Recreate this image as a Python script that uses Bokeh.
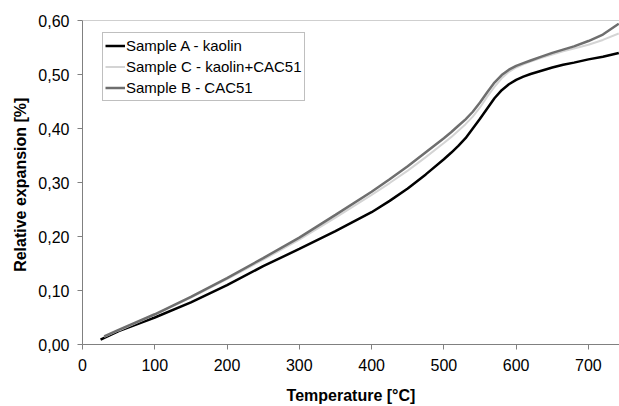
from bokeh.plotting import figure
from bokeh.models import Legend, LegendItem, FixedTicker, CustomJSTickFormatter, Span, Range1d
from bokeh.embed import file_html
from bokeh.resources import INLINE

temp_a = [25, 50, 100, 150, 200, 250, 300, 350, 400, 425, 450, 475, 500, 510, 520, 530, 540, 550, 560, 570, 580, 590, 600, 610, 620, 635, 650, 665, 680, 700, 720, 742]
sample_a = [0.009, 0.025, 0.050, 0.078, 0.110, 0.145, 0.177, 0.210, 0.245, 0.266, 0.289, 0.315, 0.343, 0.355, 0.368, 0.382, 0.400, 0.418, 0.437, 0.456, 0.471, 0.482, 0.490, 0.496, 0.501, 0.507, 0.513, 0.518, 0.522, 0.528, 0.533, 0.540]

temp_bc = [30, 50, 100, 150, 200, 250, 300, 350, 400, 425, 450, 475, 500, 510, 520, 530, 540, 550, 560, 570, 580, 590, 600, 610, 620, 635, 650, 665, 680, 700, 720, 742]
sample_b = [0.015, 0.027, 0.056, 0.088, 0.123, 0.160, 0.198, 0.240, 0.283, 0.306, 0.330, 0.356, 0.382, 0.393, 0.405, 0.417, 0.431, 0.448, 0.467, 0.485, 0.499, 0.509, 0.516, 0.521, 0.526, 0.533, 0.540, 0.546, 0.552, 0.562, 0.574, 0.594]
sample_c = [0.014, 0.026, 0.055, 0.087, 0.121, 0.157, 0.194, 0.235, 0.277, 0.299, 0.322, 0.347, 0.373, 0.384, 0.396, 0.408, 0.422, 0.439, 0.459, 0.477, 0.493, 0.505, 0.513, 0.519, 0.524, 0.531, 0.537, 0.543, 0.548, 0.555, 0.564, 0.576]

x_ticks = [0, 100, 200, 300, 400, 500, 600, 700]
y_ticks = [0.0, 0.1, 0.2, 0.3, 0.4, 0.5, 0.6]

FONT = "Liberation Sans"

p = figure(width=619, height=406, output_backend="svg", toolbar_location=None,
           x_range=Range1d(0, 743), y_range=Range1d(0, 0.6),
           min_border_left=82, min_border_right=0, min_border_top=20, min_border_bottom=57)
p.outline_line_color = None
p.grid.visible = False
p.background_fill_color = "white"

top = Span(location=0.6, dimension="width", line_color="#a0a0a0", line_width=1)
p.add_layout(top)

ra = p.line(temp_a, sample_a, line_color="black", line_width=2.5)
rc = p.line(temp_bc, sample_c, line_color="#d4d4d4", line_width=2)
rb = p.line(temp_bc, sample_b, line_color="#6e6e6e", line_width=2.5)

for ax in (p.xaxis[0], p.yaxis[0]):
    ax.axis_line_color = "#808080"
    ax.major_tick_line_color = "#808080"
    ax.major_tick_out = 5
    ax.major_tick_in = 0
    ax.minor_tick_line_color = None
    ax.major_label_text_font = FONT
    ax.major_label_text_font_size = "16px"
    ax.major_label_text_color = "black"
    ax.axis_label_text_font = FONT
    ax.axis_label_text_font_size = "16px"
    ax.axis_label_text_font_style = "bold"
    ax.axis_label_text_color = "black"

p.xaxis.ticker = FixedTicker(ticks=x_ticks)
p.yaxis.ticker = FixedTicker(ticks=y_ticks)
p.yaxis.formatter = CustomJSTickFormatter(code="return tick.toFixed(2).replace('.', ',');")
p.xaxis.axis_label = "Temperature [°C]"
p.yaxis.axis_label = "Relative expansion  [%]"
p.xaxis.major_label_standoff = 9
p.yaxis.major_label_standoff = 8
p.xaxis.axis_label_standoff = 13
p.yaxis.axis_label_standoff = 6

legend = Legend(items=[
    LegendItem(label="Sample A - kaolin", renderers=[ra]),
    LegendItem(label="Sample C - kaolin+CAC51", renderers=[rc]),
    LegendItem(label="Sample B - CAC51", renderers=[rb]),
], location=(20, 243))
legend.border_line_color = "#808080"
legend.border_line_width = 1
legend.label_text_font = FONT
legend.label_text_font_size = "15px"
legend.label_text_color = "black"
legend.glyph_width = 20
legend.glyph_height = 21
legend.label_height = 21
legend.label_standoff = 1
legend.spacing = 0
legend.padding = 2
legend.margin = 0
p.add_layout(legend, "center")

open("out.html", "w").write(file_html(p, INLINE))
